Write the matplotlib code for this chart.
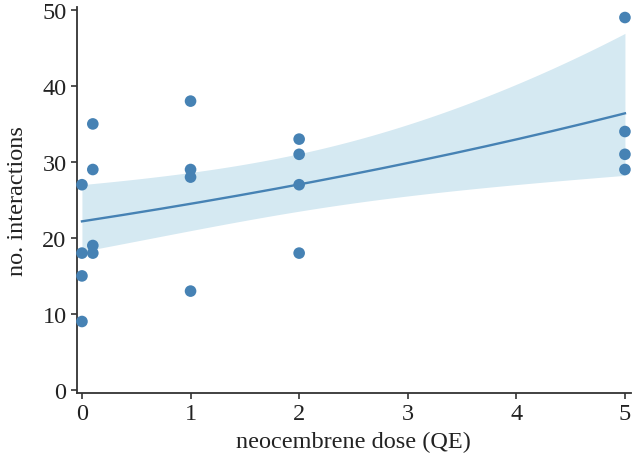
import numpy as np
import matplotlib
matplotlib.use("Agg")
import matplotlib.pyplot as plt

plt.rcParams['font.family'] = ['Liberation Serif', 'DejaVu Serif']

dose = [0, 0, 0, 0, 0.1, 0.1, 0.1, 0.1, 1, 1, 1, 1, 2, 2, 2, 2, 5, 5, 5, 5]
interactions = [27, 18, 15, 9, 35, 29, 19, 18, 38, 29, 28, 13, 33, 31, 27, 18, 49, 34, 31, 29]
xticks = [0, 1, 2, 3, 4, 5]
yticks = [0, 10, 20, 30, 40, 50]

x = np.array(dose, float)
y = np.array(interactions, float)

# Quasi-Poisson GLM (log link) fitted by IRLS
X = np.column_stack([np.ones_like(x), x])
beta = np.array([np.log(y.mean()), 0.0])
for _ in range(50):
    mu = np.exp(X @ beta)
    W = mu
    z = X @ beta + (y - mu) / mu
    XtW = X.T * W
    beta = np.linalg.solve(XtW @ X, XtW @ z)
mu = np.exp(X @ beta)
phi = np.sum((y - mu) ** 2 / mu) / (len(y) - 2)
cov = np.linalg.inv((X.T * mu) @ X) * phi

xs = np.linspace(0, 5, 200)
Xs = np.column_stack([np.ones_like(xs), xs])
eta = Xs @ beta
se = np.sqrt(np.einsum('ij,jk,ik->i', Xs, cov, Xs))
fit = np.exp(eta)
lo = np.exp(eta - 1.96 * se)
hi = np.exp(eta + 1.96 * se)

fig = plt.figure(figsize=(6.36, 4.64), dpi=100)
ax = fig.add_axes([0.121, 0.151, 0.871, 0.832])
col = '#4682b4'
ax.fill_between(xs, lo, hi, color='#d5e9f2', lw=0, zorder=1)
ax.plot(xs, fit, color=col, lw=1.7, zorder=2)
ax.scatter(x, y, s=70, color=col, zorder=3, edgecolors='none', clip_on=False)

ax.set_xlim(-0.046, 5.055)
ax.set_ylim(-0.4, 50.4)
ax.set_xticks(xticks)
ax.set_yticks(yticks)
for s in ['top', 'right']:
    ax.spines[s].set_visible(False)
for s in ['left', 'bottom']:
    ax.spines[s].set_color('#333333')
    ax.spines[s].set_linewidth(1.3)
ax.tick_params(labelsize=17.5, direction='out', length=4.5, width=1.2,
               color='#333333', labelcolor='#222222', pad=3)
ax.set_xlabel('neocembrene dose (QE)', fontsize=17.5, color='#222222', labelpad=5)
ax.set_ylabel('no. interactions', fontsize=17.5, color='#222222', labelpad=10)
fig.savefig('out.png', dpi=100)
